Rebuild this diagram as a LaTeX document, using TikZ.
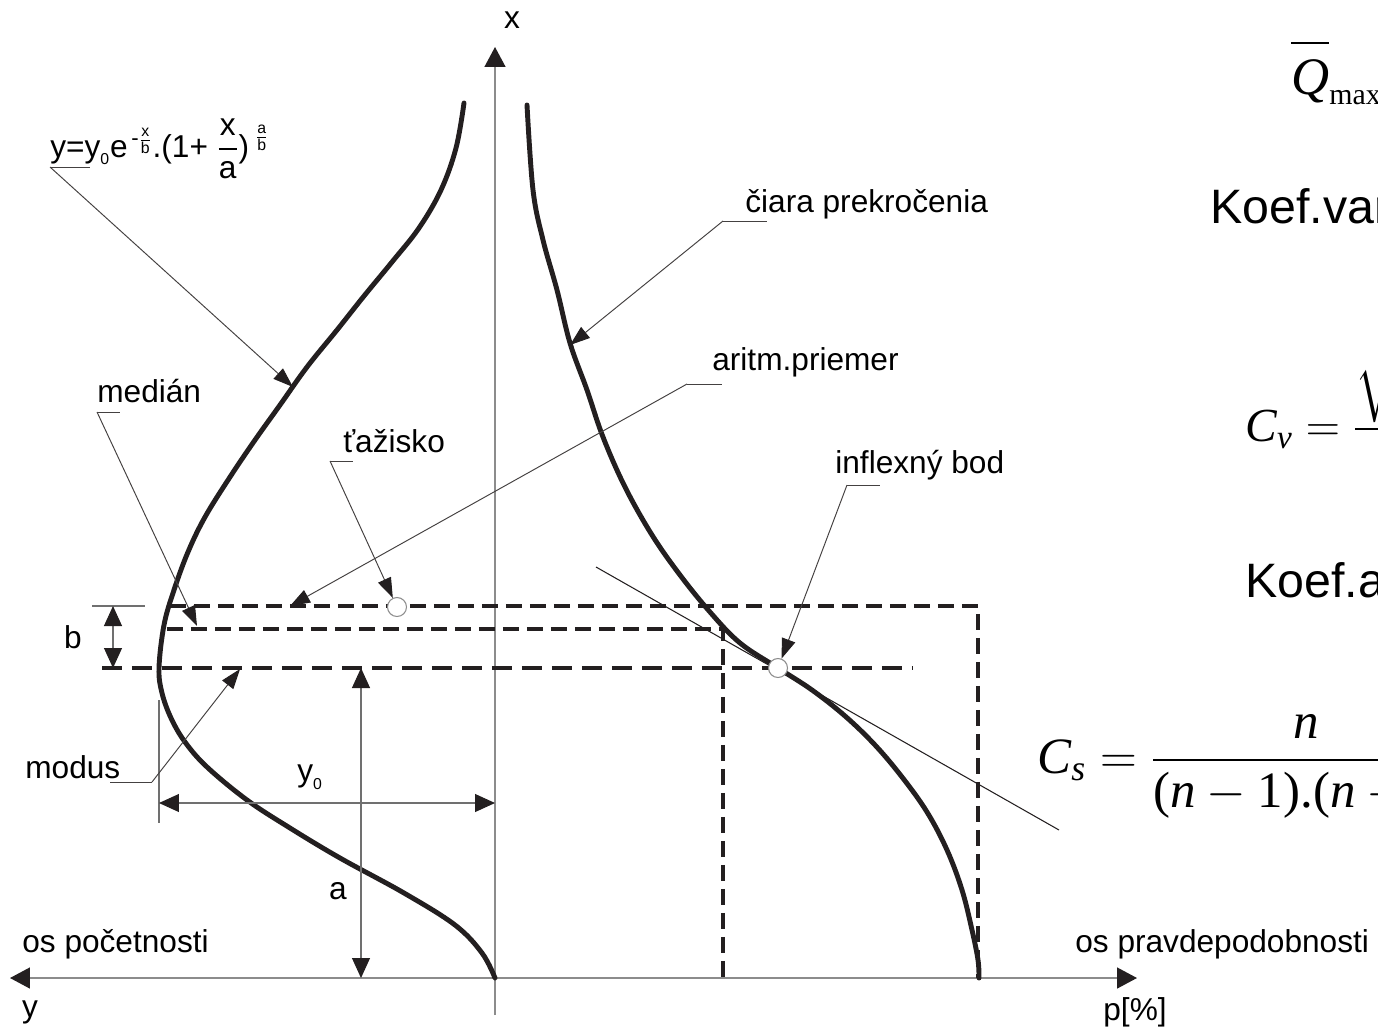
\documentclass[tikz,border=0pt]{standalone}
\usepackage{fix-cm}
\usepackage[no-math]{fontspec}
\setmainfont{Liberation Sans}
\newfontfamily\tms{Liberation Serif}
\usepackage{amsmath}
\usetikzlibrary{arrows.meta}
\definecolor{ink}{HTML}{231F20}
\definecolor{axisgray}{HTML}{8C8C8C}
\definecolor{dimgray}{HTML}{707070}

\begin{document}
\begin{tikzpicture}[x=0.02cm, y=-0.02cm,
    every node/.style={inner sep=0pt, font=\fontsize{18}{20}\selectfont},
    lbl/.style={anchor=base west},
    big/.style={anchor=base west, font=\fontsize{27.5}{30}\selectfont},
    frm/.style={anchor=base west, font=\tms\fontsize{29}{32}\selectfont},
    curve/.style={draw=ink, line width=2.8pt, line cap=round},
    axis/.style={draw=axisgray, line width=0.85pt},
    dim/.style={draw=dimgray, line width=0.6pt,
                {Triangle[length=4mm,width=3.6mm,color=ink]}-{Triangle[length=4mm,width=3.6mm,color=ink]}},
    ext/.style={draw=dimgray, line width=0.6pt},
    leader/.style={draw=ink!85, line width=0.55pt, -{Triangle[length=4mm,width=2.8mm,color=ink]}},
    uline/.style={draw=ink!85, line width=0.55pt},
    dashln/.style={draw=ink, line width=2pt, dash pattern=on 3.2mm off 1.6mm},
    modeln/.style={draw=ink, line width=2.4pt, dash pattern=on 4mm off 2mm},
    dot/.style={circle, draw=axisgray, fill=white, line width=0.6pt, minimum size=3.8mm}
]
    \useasboundingbox (0,0) rectangle (1378,1031);
    \clip (0,0) rectangle (1378,1031);

    % axes
    \draw[axis, {Triangle[length=4mm,width=4.2mm,color=ink]}-{Triangle[length=4mm,width=4.2mm,color=ink]}]
        (10,978) -- (1137,978);
    \draw[axis, -{Triangle[length=4mm,width=4.2mm,color=ink]}] (495,1015) -- (495,47);
    \node (lx) at (512,20) {x};
    \node (ly) at (30,1012) {y};
    \node (lp) at (1135,1012) {p[\%]};
    \node[lbl] (osp) at (22,952) {os početnosti};
    \node[lbl] (osq) at (1075,952) {os pravdepodobnosti};

    % mean, median, mode levels
    \draw[dashln] (170,606) -- (978,606) -- (978,978);
    \draw[dashln] (167,629) -- (723,629) -- (723,978);
    \draw[modeln] (102,668) -- (912,668);

    % density curve
    \draw[curve] plot[smooth, tension=0.6] coordinates {
        (464,103) (456,148) (441,190) (419,228) (392,262) (364,296) (337,330)
        (307,367) (280,405) (255,440) (230,477) (205,517) (188,552) (174,590)
        (164,625) (159,668) (162,693) (171,718) (185,742) (207,767)
        (247,800) (290,828) (340,858) (404,893) (455,925) (482,953) (495,978)};
    % exceedance curve
    \draw[curve] plot[smooth, tension=0.6] coordinates {
        (527,105) (533,190) (543,240) (557,290) (570,343) (587,390) (603,437)
        (625,487) (652,535) (680,575) (710,612) (740,643) (778,668)
        (812,690) (845,716) (875,745) (902,777) (927,812) (947,850) (962,890)
        (972,930) (978,960) (979,978)};

    % tangent at inflexion
    \coordinate (tg1) at (596,567);
    \coordinate (tg2) at (1059,830);
    \draw[ink, line width=0.6pt] (tg1) -- (tg2);

    \node[dot] (tz) at (397,607) {};
    \node[dot] (infl) at (778,668) {};

    % dimensions
    \draw[ext] (92,606) -- (145,606);
    \draw[dim] (113,606) -- (113,668);
    \node (lb) at (73,637) {b};
    \draw[dim] (361,668) -- (361,978);
    \node (la) at (338,891) {a};
    \draw[ext] (159,700) -- (159,823);
    \draw[dim] (159,803) -- (495,803);
    \node (ly0) at (310,777) {$\text{y}_{\scriptscriptstyle\text{0}}$};

    % labels with leaders
    \node[lbl] (fpdf) at (50,157)
        {$\text{y=y}_{\scriptscriptstyle\text{0}}\text{e}^{\,\text{-}\genfrac{}{}{}{2}{\text{x}}{\text{b}}}\text{.(1+ }\dfrac{\text{x}}{\text{a}}\text{)}^{\;\genfrac{}{}{}{2}{\text{a}}{\text{b}}}$};
    \coordinate (fpdfU) at (50,167);
    \coordinate (fpdfT) at (293,387);
    \draw[uline] (fpdfU) -- (90,167);
    \draw[leader] (fpdfU) -- (fpdfT);

    \node[lbl] (med) at (97,402) {medián};
    \coordinate (medU) at (97,412);
    \coordinate (medT) at (197,626);
    \draw[uline] (medU) -- (120,412);
    \draw[leader] (medU) -- (medT);

    \node[lbl] (mod) at (25,778) {modus};
    \coordinate (modU) at (152,782);
    \coordinate (modT) at (240,669);
    \draw[uline] (110,782) -- (modU);
    \draw[leader] (modU) -- (modT);

    \node[lbl] (tzl) at (343,452) {ťažisko};
    \coordinate (tzU) at (330,461);
    \draw[uline] (tzU) -- (353,461);
    \draw[leader] (tzU) -- (tz);

    \node[lbl] (ar) at (712,370) {aritm.priemer};
    \coordinate (arU) at (687,384);
    \coordinate (arT) at (290,606);
    \draw[uline] (arU) -- (722,384);
    \draw[leader] (arU) -- (arT);

    \node[lbl] (cp) at (745,212) {čiara prekročenia};
    \coordinate (cpU) at (723,221);
    \coordinate (cpT) at (570,345);
    \draw[uline] (cpU) -- (767,221);
    \draw[leader] (cpU) -- (cpT);

    \node[lbl] (inf) at (835,473) {inflexný bod};
    \coordinate (infU) at (847,485);
    \draw[uline] (infU) -- (880,485);
    \draw[leader] (infU) -- (infl);

    % parameters
    \node[frm, font=\tms\fontsize{30}{32}\selectfont] (qmax) at (1291,94)
        {$\overline{\text{\itshape Q}\rule{0pt}{0.85em}}_{\text{\fontsize{17}{17}\selectfont max}}=\text{\itshape Q}$};
    \node[big] (kv) at (1210,223) {Koef.variácie:};
    \node[frm, font=\tms\fontsize{27}{30}\selectfont] (cv) at (1245,441)
        {$\text{\itshape C}_{\text{\itshape v}} = \dfrac{\sqrt{\vphantom{\dfrac{1}{1}}\sum(\text{\itshape k}_{\text{\itshape i}}-\text{1})^{\text{2}}}}{\sqrt{\text{\itshape n}-\text{1}}}$};
    \node[big] (ka) at (1245,597) {Koef.asymetrie:};
    \node[frm] (cs) at (1037,773)
        {$\text{\itshape C}_{\text{\itshape s}} = \dfrac{\text{\itshape n}}{\text{(\itshape n}-\text{1).(\itshape n}-\text{2)}}$};
\end{tikzpicture}
\end{document}
